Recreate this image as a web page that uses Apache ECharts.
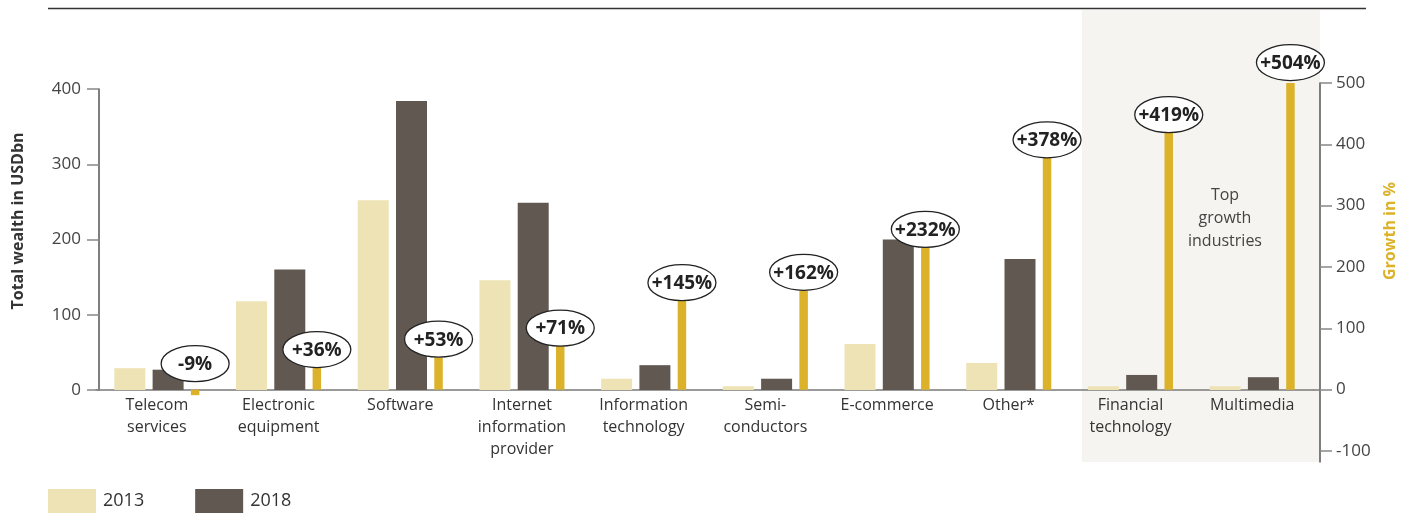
<!DOCTYPE html>
<html>
<head>
<meta charset="utf-8">
<style>
  html, body { margin: 0; padding: 0; background: #fff; }
  #chart { width: 1412px; height: 514px; }
</style>
<script src="https://cdn.jsdelivr.net/npm/echarts@6/dist/echarts.min.js"></script>
</head>
<body>
<div id="chart"></div>
<script>
// Industry categories
const categories = [
  'Telecom\nservices',
  'Electronic\nequipment',
  'Software',
  'Internet\ninformation\nprovider',
  'Information\ntechnology',
  'Semi-\nconductors',
  'E-commerce',
  'Other*',
  'Financial\ntechnology',
  'Multimedia'
];

// Total wealth in USD bn
const wealth2013 = [29, 118, 252, 146, 15, 5, 61, 36, 5, 5];
const wealth2018 = [27, 160, 384, 249, 33, 15, 200, 174, 20, 17];

// Growth 2013-2018 in %
const growth = [-9, 36, 53, 71, 145, 162, 232, 378, 419, 504];

// Axis ticks
const leftTicks = { min: 0, max: 400, interval: 100 };
const rightTickValues = [-100, 0, 100, 200, 300, 400, 500];

// Layout constants
const FONT = '"Open Sans", "Noto Sans", sans-serif';
const GRID_LEFT = 96;
const GRID_WIDTH = 1217;
const WIDE = 31;          // 2013 / 2018 bar width
const NARROW = 8.5;       // growth bar width
const GAP = 0.235;        // barGap as fraction of bar width
const RIGHT_AXIS_OFFSET = 7;

// centre of the growth bar relative to the category centre
const groupWidth = WIDE * (1 + GAP) * 2 + NARROW;
const GROWTH_SHIFT = -groupWidth / 2 + WIDE * (1 + GAP) * 2 + NARROW / 2;

const C2013 = '#ede3b4';
const C2018 = '#615851';
const CGROWTH = '#dcb22a';

const chart = echarts.init(document.getElementById('chart'), null, { renderer: 'canvas' });

const fmtGrowth = v => (v > 0 ? '+' : '') + v + '%';

const option = {
  animation: false,
  backgroundColor: '#fff',
  textStyle: { fontFamily: FONT },
  grid: [
    { left: GRID_LEFT, width: GRID_WIDTH, top: 89, height: 301 },
    { left: GRID_LEFT, width: GRID_WIDTH, top: 83, height: 379 }
  ],
  legend: {
    data: ['2013', '2018'],
    left: 48,
    top: 489,
    padding: 0,
    itemWidth: 48,
    itemHeight: 24,
    itemGap: 51,
    icon: 'rect',
    selectedMode: false,
    textStyle: { fontSize: 18, color: '#333', fontFamily: FONT, padding: [0, 0, 0, 2] }
  },
  xAxis: [
    {
      type: 'category',
      gridIndex: 0,
      data: categories,
      axisLine: { show: true, lineStyle: { color: '#7a7a7a', width: 1.5 } },
      axisTick: { show: false },
      axisLabel: {
        interval: 0,
        margin: 4,
        fontSize: 16,
        lineHeight: 22,
        color: '#333',
        fontFamily: FONT
      }
    },
    {
      type: 'category',
      gridIndex: 1,
      data: categories,
      show: false
    }
  ],
  yAxis: [
    {
      type: 'value',
      gridIndex: 0,
      min: leftTicks.min,
      max: leftTicks.max,
      interval: leftTicks.interval,
      offset: -3,
      axisLine: { show: true, lineStyle: { color: '#555', width: 1.5 } },
      axisTick: { show: true, length: 12, lineStyle: { color: '#888', width: 1.5 } },
      axisLabel: { fontSize: 17, color: '#444', margin: 18, fontFamily: FONT },
      splitLine: { show: false }
    },
    {
      type: 'value',
      gridIndex: 1,
      position: 'right',
      min: -118,
      max: 500,
      offset: RIGHT_AXIS_OFFSET,
      axisLine: { show: true, lineStyle: { color: '#555', width: 1.5 } },
      axisTick: { show: true, length: 12, customValues: rightTickValues, lineStyle: { color: '#888', width: 1.5 } },
      axisLabel: { fontSize: 17, color: '#444', margin: 16, customValues: rightTickValues, fontFamily: FONT },
      splitLine: { show: false }
    }
  ],
  graphic: [
    // shaded panel behind the top growth industries
    { type: 'rect', z: -10, shape: { x: 1082, y: 10, width: 238, height: 452 }, style: { fill: '#f5f4f0' } },
    // rule across the top
    { type: 'line', z: 10, shape: { x1: 48, y1: 8.5, x2: 1366, y2: 8.5 }, style: { stroke: '#333', lineWidth: 1.5 } },
    {
      type: 'text', z: 10, x: 1225, y: 218,
      style: { text: 'Top\ngrowth\nindustries', align: 'center', verticalAlign: 'middle', font: '16px ' + FONT, lineHeight: 23, fill: '#444' }
    },
    {
      type: 'text', z: 10, x: 18, y: 221, rotation: Math.PI / 2,
      style: { text: 'Total wealth in USDbn', align: 'center', verticalAlign: 'middle', font: 'bold 16px ' + FONT, fill: '#333' }
    },
    {
      type: 'text', z: 10, x: 1390, y: 231, rotation: Math.PI / 2,
      style: { text: 'Growth in %', align: 'center', verticalAlign: 'middle', font: 'bold 16px ' + FONT, fill: CGROWTH }
    }
  ],
  series: [
    {
      name: '2013', type: 'bar', xAxisIndex: 0, yAxisIndex: 0,
      barWidth: WIDE, barGap: GAP * 100 + '%',
      itemStyle: { color: C2013 }, data: wealth2013
    },
    {
      name: '2018', type: 'bar', xAxisIndex: 0, yAxisIndex: 0,
      barWidth: WIDE, barGap: GAP * 100 + '%',
      itemStyle: { color: C2018 }, data: wealth2018
    },
    // reserves the growth slot in the wealth grid
    { name: 'slot-g', type: 'bar', xAxisIndex: 0, yAxisIndex: 0, barWidth: NARROW, barGap: GAP * 100 + '%', data: [] },
    // reserve the wealth slots in the growth grid
    { name: 'slot-a', type: 'bar', xAxisIndex: 1, yAxisIndex: 1, barWidth: WIDE, barGap: GAP * 100 + '%', data: [] },
    { name: 'slot-b', type: 'bar', xAxisIndex: 1, yAxisIndex: 1, barWidth: WIDE, barGap: GAP * 100 + '%', data: [] },
    {
      name: 'Growth', type: 'bar', xAxisIndex: 1, yAxisIndex: 1,
      barWidth: NARROW, barGap: GAP * 100 + '%',
      itemStyle: { color: CGROWTH }, data: growth
    },
    {
      name: 'Growth label', type: 'custom', xAxisIndex: 1, yAxisIndex: 1, z: 20,
      data: growth.map((v, i) => [i, v]),
      renderItem: function (params, api) {
        const idx = api.value(0);
        const v = api.value(1);
        const top = api.coord([idx, Math.max(v, 0)]);
        const cx = top[0] + GROWTH_SHIFT;
        const rx = 34, ry = 18;
        const cy = v < 0 ? top[1] - 8 - ry : top[1] - ry;
        return {
          type: 'group',
          children: [
            { type: 'ellipse', shape: { cx: cx, cy: cy, rx: rx, ry: ry }, style: { fill: '#fff', stroke: '#222', lineWidth: 1.3 } },
            { type: 'text', style: { text: fmtGrowth(v), x: cx, y: cy + 1, align: 'center', verticalAlign: 'middle', font: 'bold 19px ' + FONT, fill: '#222' } }
          ]
        };
      }
    }
  ]
};

chart.setOption(option);

// join the baseline to the right-hand axis
const baseY = chart.convertToPixel({ yAxisIndex: 0 }, 0);
chart.setOption({
  graphic: option.graphic.concat([{
    type: 'line', z: 5,
    shape: { x1: GRID_LEFT + GRID_WIDTH, y1: baseY, x2: GRID_LEFT + GRID_WIDTH + RIGHT_AXIS_OFFSET, y2: baseY },
    style: { stroke: '#7a7a7a', lineWidth: 1.5 }
  }])
});
</script>
</body>
</html>
